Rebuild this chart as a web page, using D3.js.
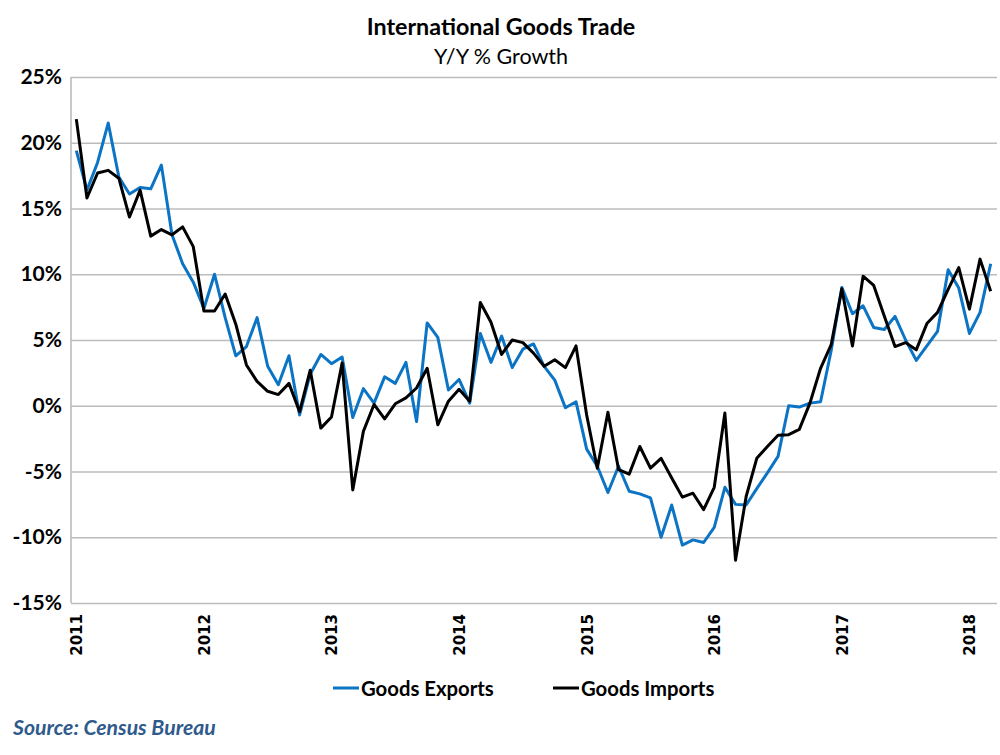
<!DOCTYPE html>
<html><head><meta charset="utf-8">
<script src="https://cdn.jsdelivr.net/npm/d3@7"></script>
<style>body{margin:0;background:#fff} svg{display:block}</style>
</head><body>
<svg id="c" width="1000" height="755"></svg>
<script>
// ---- data ----
const firstMonth = [2011, 0];
const monthCount = 87; // Jan 2011 .. Mar 2018
const exportsGrowth = [19.4,16.4,18.5,21.5,17.4,16.1,16.6,16.5,18.3,13.0,10.8,9.4,
  7.4,10.0,6.7,3.8,4.5,6.7,3.0,1.6,3.8,-0.7,2.4,3.9,
  3.2,3.7,-0.9,1.3,0.2,2.2,1.7,3.3,-1.2,6.3,5.2,1.2,
  2.0,0.2,5.5,3.3,5.3,2.9,4.3,4.7,3.0,1.95,-0.15,0.3,
  -3.3,-4.6,-6.6,-4.6,-6.5,-6.7,-7.0,-10.0,-7.55,-10.6,-10.2,-10.4,
  -9.25,-6.2,-7.5,-7.55,-6.3,-5.1,-3.85,0.0,-0.1,0.2,0.3,4.2,
  9.0,7.0,7.6,5.95,5.8,6.8,5.0,3.45,4.55,5.65,10.35,8.95,
  5.5,7.1,10.8];
const importsGrowth = [21.8,15.8,17.7,17.9,17.3,14.35,16.4,12.9,13.4,13.0,13.6,12.1,
  7.2,7.2,8.5,6.2,3.1,1.85,1.1,0.85,1.7,-0.45,2.7,-1.7,
  -0.85,3.25,-6.4,-1.95,0.1,-1.0,0.15,0.6,1.35,2.85,-1.45,0.35,
  1.25,0.35,7.85,6.35,3.9,5.0,4.8,4.0,3.0,3.5,2.9,4.55,
  -0.7,-4.75,-0.5,-4.85,-5.2,-3.1,-4.75,-4.0,-5.5,-6.95,-6.65,-7.9,
  -6.2,-0.55,-11.75,-6.9,-4.0,-3.1,-2.25,-2.2,-1.8,0.2,2.85,4.65,
  8.9,4.55,9.85,9.15,6.8,4.5,4.8,4.25,6.25,7.1,8.85,10.5,
  7.35,11.15,8.7];
const yTicks = [-15,-10,-5,0,5,10,15,20,25];
const yearLabels = ["2011","2012","2013","2014","2015","2016","2017","2018"];
const seriesNames = ["Goods Exports","Goods Imports"];
const seriesColors = ["#0b74c4","#000000"];
const titleText = "International Goods Trade";
const subtitleText = "Y/Y % Growth";
const sourceText = "Source: Census Bureau";

// ---- chart ----
const svg = d3.select("#c");
const months = d3.range(monthCount).map(i => new Date(firstMonth[0], firstMonth[1] + i, 1));
const plot = {left: 71, right: 997, top: 77, bottom: 603};

const x = d3.scaleBand().domain(months.map(d => +d)).range([plot.left, plot.right - 1]).padding(0);
const cx = d => x(+d) + x.bandwidth() / 2;
const y = d3.scaleLinear().domain([-15, 25]).range([plot.bottom, plot.top]);

// grid + y labels
const yAxis = d3.axisLeft(y).tickValues(yTicks).tickFormat(d => d + "%")
  .tickSize(-(plot.right - plot.left)).tickPadding(9);
const gy = svg.append("g").attr("transform", `translate(${plot.left},0)`).call(yAxis);
gy.select(".domain").remove();
gy.selectAll(".tick line").attr("stroke", "#bcbcbc").attr("stroke-width", 1.6);
gy.selectAll(".tick text").attr("font-family", "Lato, 'Open Sans', sans-serif")
  .attr("font-weight", 700).attr("font-size", 21).attr("fill", "#000");

// y axis line
svg.append("line").attr("x1", plot.left).attr("x2", plot.left)
  .attr("y1", plot.top).attr("y2", plot.bottom).attr("stroke", "#bcbcbc").attr("stroke-width", 1.6);

// x labels
const janMonths = months.filter(d => d.getMonth() === 0);
const xAxis = d3.axisBottom(x).tickValues(janMonths.map(d => +d))
  .tickFormat((d, i) => yearLabels[i]).tickSize(0);
const gx = svg.append("g").attr("transform", `translate(0,${plot.bottom})`).call(xAxis);
gx.select(".domain").remove();
gx.selectAll(".tick text")
  .attr("font-family", "'DejaVu Sans', sans-serif").attr("font-weight", 700).attr("font-size", 15)
  .attr("fill", "#000")
  .attr("text-anchor", "end").attr("dominant-baseline", "central")
  .attr("transform", "translate(1,11) rotate(-90)").attr("x", 0).attr("y", 0).attr("dy", null);

// lines
const series = [exportsGrowth, importsGrowth];
const line = d3.line().x((v, i) => cx(months[i])).y(v => y(v));
series.forEach((vals, k) => {
  svg.append("path").datum(vals).attr("d", line)
    .attr("fill", "none").attr("stroke", seriesColors[k]).attr("stroke-width", 3)
    .attr("stroke-linejoin", "round");
});

// title
svg.append("text").attr("x", 501).attr("y", 35).attr("text-anchor", "middle")
  .attr("font-family", "Lato, sans-serif").attr("font-weight", 700).attr("font-size", 23.3)
  .text(titleText);
svg.append("text").attr("x", 501).attr("y", 64).attr("text-anchor", "middle")
  .attr("font-family", "Lato, sans-serif").attr("font-weight", 400).attr("font-size", 21.5)
  .text(subtitleText);

// legend
const legendX = [333, 553];
seriesNames.forEach((n, k) => {
  const g = svg.append("g").attr("transform", `translate(${legendX[k]},688)`);
  g.append("line").attr("x1", 0).attr("x2", 26).attr("y1", 0).attr("y2", 0)
    .attr("stroke", seriesColors[k]).attr("stroke-width", 3);
  g.append("text").attr("x", 28).attr("y", 0).attr("dominant-baseline", "central")
    .attr("font-family", "Lato, sans-serif").attr("font-weight", 700).attr("font-size", 20.3)
    .text(n);
});

// source
svg.append("text").attr("x", 13).attr("y", 735)
  .attr("font-family", "Lato, sans-serif").attr("font-weight", 700).attr("font-style", "italic")
  .attr("font-size", 21.2).attr("fill", "#2f5a8c").text(sourceText);
</script>
</body></html>
